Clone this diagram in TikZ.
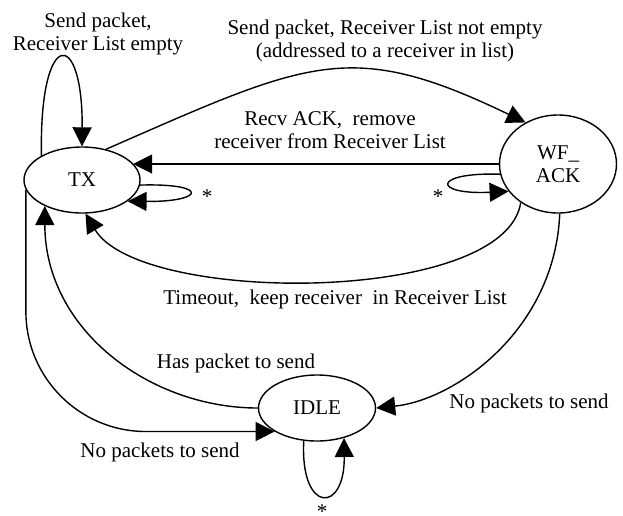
\documentclass[tikz,border=0pt]{standalone}
\usepackage{fontspec}
\setmainfont{Liberation Serif}
\usetikzlibrary{arrows.meta,shapes.geometric}
\begin{document}
\begin{tikzpicture}[x=1pt,y=-1pt,
  every node/.style={font=\fontsize{21}{23}\selectfont},
  state/.style={draw, ellipse, line width=1.4pt, inner sep=0pt, minimum width=116pt, minimum height=66pt},
  edge/.style={line width=1.4pt, -{Triangle[length=19pt,width=19pt]}},
  lbl/.style={align=center, inner sep=0pt},
  star/.style={inner sep=0pt}]
\useasboundingbox (0,0) rectangle (623,515);
\node[state] (tx) at (82,180) {TX};
\node[state, minimum width=117pt, minimum height=98pt, align=center] (wf) at (558,164) {WF\_\\ACK};
\node[state, minimum width=117pt] (idle) at (317,408) {IDLE};

\draw[edge] (tx.149) .. controls (39,27) and (83,27) .. (tx.90);
\draw[edge] (tx.52) .. controls (310,60) and (350,38) .. (wf.128);
\draw[edge] (wf.west) -- (wf.west -| tx.18);
\draw[edge] (tx.-5) .. controls (210,183) and (205,202) .. (tx.-25);
\draw[edge] (wf.190) .. controls (432,172) and (432,195) .. (wf.209);
\draw[edge] (wf.226) .. controls (505,305) and (140,305) .. (tx.-84);
\draw[edge] (idle.west) .. controls (150,408) and (45,330) .. (tx.215);
\draw[edge, rounded corners=120pt] (tx.190) |- (idle.209);
\draw[edge] (wf.272) .. controls (555,330) and (455,400) .. (idle.east);
\draw[edge] (idle.248) .. controls (300,514) and (345,514) .. (idle.312);

\node[lbl] (l1) at (98,34) {Send packet,\\Receiver List empty};
\node[lbl] (l2) at (385,41) {Send packet, Receiver List not empty\\(addressed to a receiver in list)};
\node[lbl] (l3) at (330,130) {Recv ACK,\ \ remove\\receiver from Receiver List};
\node[star] (s1) at (207,192) {\smash{\raisebox{-0.55em}{*}}};
\node[star] (s2) at (438,192) {\smash{\raisebox{-0.55em}{*}}};
\node[lbl] (l4) at (335,299) {Timeout,\ \ keep receiver\ \ in Receiver List};
\node[lbl] (l5) at (236,363) {Has packet to send};
\node[lbl] (l6) at (160,452) {No packets to send};
\node[lbl] (l7) at (529,403) {No packets to send};
\node[star] (s3) at (322,507) {\smash{\raisebox{-0.55em}{*}}};
\end{tikzpicture}
\end{document}
